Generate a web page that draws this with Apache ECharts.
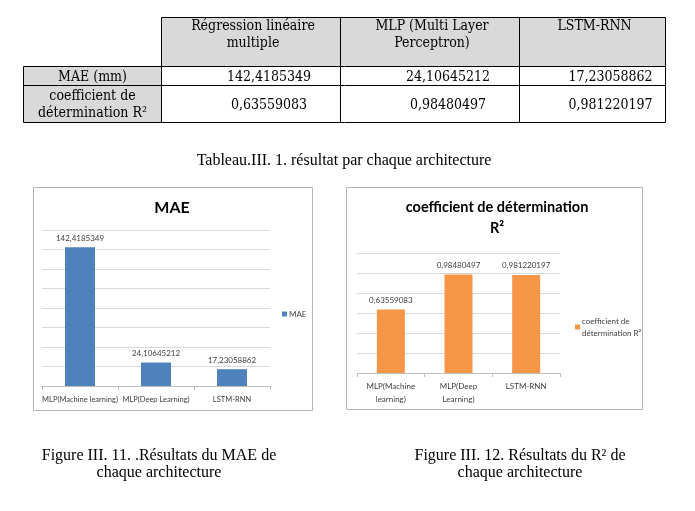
<!DOCTYPE html>
<html>
<head>
<meta charset="utf-8">
<script src="https://cdn.jsdelivr.net/npm/echarts@6/dist/echarts.min.js"></script>
<style>
html,body{margin:0;padding:0;background:#fff;}
#main{width:695px;height:511px;}
</style>
</head>
<body>
<div id="main"></div>
<script>
// ---- data ----
const categoriesMAE = ['MLP(Machine learning)', 'MLP(Deep Learning)', 'LSTM-RNN'];
const categoriesR2 = ['MLP(Machine\nlearning)', 'MLP(Deep\nLearning)', 'LSTM-RNN'];
const maeValues = [142.4185349, 24.10645212, 17.23058862];
const r2Values = [0.63559083, 0.98480497, 0.981220197];
const tableHeaders = ['Régression linéaire\nmultiple', 'MLP (Multi Layer\nPerceptron)', 'LSTM-RNN'];
const tableRowLabels = ['MAE (mm)', 'coefficient de\ndétermination R²'];
const maeTitle = 'MAE';
const r2Title = 'coefficient de détermination\nR²';
const maeSeriesName = 'MAE';
const r2SeriesName = 'coefficient de détermination R²';
const tableCaption = 'Tableau.III. 1. résultat par chaque architecture';
const figCaptionLeft = 'Figure III. 11. .Résultats du MAE de\nchaque architecture';
const figCaptionRight = 'Figure III. 12. Résultats du R² de\nchaque architecture';
const maeAxis = {min: 0, max: 160, interval: 20};
const r2Axis = {min: 0, max: 1.2, interval: 0.2};

// ---- helpers ----
const fr = v => String(v).replace('.', ',');
const chartFont = "Lato, 'DejaVu Sans Condensed', sans-serif";
const tableFont = "'DejaVu Serif Condensed', 'Liberation Serif', serif";
const capFont = "'Liberation Serif', serif";

const colX = [23.5, 161.5, 340.5, 519.5, 665.5];
const rowY = [17.5, 66.5, 85.5, 122.5];
const gray = '#d9d9d9';

const g = [];
// table fills
g.push({type:'rect', shape:{x:colX[1], y:rowY[0], width:colX[4]-colX[1], height:rowY[1]-rowY[0]}, style:{fill:gray}});
g.push({type:'rect', shape:{x:colX[0], y:rowY[1], width:colX[1]-colX[0], height:rowY[3]-rowY[1]}, style:{fill:gray}});
// table lines
const ls = {stroke:'#000', lineWidth:1};
g.push({type:'line', shape:{x1:colX[1], y1:rowY[0], x2:colX[4], y2:rowY[0]}, style:ls});
for (let i = 1; i < rowY.length; i++) {
  g.push({type:'line', shape:{x1:colX[0], y1:rowY[i], x2:colX[4], y2:rowY[i]}, style:ls});
}
g.push({type:'line', shape:{x1:colX[0], y1:rowY[1], x2:colX[0], y2:rowY[3]}, style:ls});
for (let i = 1; i < colX.length; i++) {
  g.push({type:'line', shape:{x1:colX[i], y1:rowY[0], x2:colX[i], y2:rowY[3]}, style:ls});
}
// header texts
tableHeaders.forEach((h, i) => {
  g.push({type:'text', x:(colX[i+1]+colX[i+2])/2 + 2, y:18, style:{text:h, font:'14px ' + tableFont, fill:'#000', textAlign:'center', textVerticalAlign:'top', lineHeight:17}});
});
// row labels
tableRowLabels.forEach((r, i) => {
  g.push({type:'text', x:(colX[0]+colX[1])/2, y:(rowY[i+1]+rowY[i+2])/2 + 1, style:{text:r, font:'14px ' + tableFont, fill:'#000', textAlign:'center', textVerticalAlign:'middle', lineHeight:17}});
});
// values
[maeValues, r2Values].forEach((vals, r) => {
  vals.forEach((v, c) => {
    g.push({type:'text', x:(colX[c+1]+colX[c+2])/2 + 18, y:(rowY[r+1]+rowY[r+2])/2 + 1, style:{text:fr(v), font:'14px ' + tableFont, fill:'#000', textAlign:'center', textVerticalAlign:'middle'}});
  });
});
// captions
g.push({type:'text', x:344, y:161, style:{text:tableCaption, font:'16px ' + capFont, fill:'#000', textAlign:'center', textVerticalAlign:'middle'}});
g.push({type:'text', x:159, y:447, style:{text:figCaptionLeft, font:'16px ' + capFont, fill:'#000', textAlign:'center', textVerticalAlign:'top', lineHeight:17}});
g.push({type:'text', x:520, y:447, style:{text:figCaptionRight, font:'16px ' + capFont, fill:'#000', textAlign:'center', textVerticalAlign:'top', lineHeight:17}});
// chart frames
g.push({type:'rect', shape:{x:33.5, y:187.5, width:279, height:223}, style:{fill:'none', stroke:'#b4b4b4', lineWidth:1}, z:-1});
g.push({type:'rect', shape:{x:346.5, y:187.5, width:296, height:222}, style:{fill:'none', stroke:'#b4b4b4', lineWidth:1}, z:-1});
// chart titles
g.push({type:'text', x:172, y:208, style:{text:maeTitle, font:'bold 16px ' + chartFont, fill:'#000', textAlign:'center', textVerticalAlign:'middle'}});
g.push({type:'text', x:497, y:197, style:{text:r2Title, font:'bold 14.5px ' + chartFont, fill:'#000', textAlign:'center', textVerticalAlign:'top', lineHeight:21}});

const makeXAxis = (idx, data, size) => ({
  type:'category', gridIndex:idx, data:data,
  axisLine:{lineStyle:{color:'#bfbfbf'}},
  axisTick:{show:true, length:4, lineStyle:{color:'#bfbfbf'}},
  axisLabel:{fontSize:size, color:'#404040', fontFamily:chartFont, margin:7, interval:0, lineHeight:13}
});
const yAxisBase = {
  type:'value',
  axisLabel:{show:false}, axisLine:{show:false}, axisTick:{show:false},
  splitLine:{lineStyle:{color:'#d9d9d9'}}
};
const labelStyle = {show:true, position:'top', distance:5, fontSize:8, color:'#404040', fontFamily:chartFont, formatter:p => fr(p.value)};

const chart = echarts.init(document.getElementById('main'), null, {renderer:'canvas'});
chart.setOption({
  backgroundColor:'#fff',
  animation:false,
  grid:[
    {left:42, right:425, top:230, bottom:125},
    {left:357, right:135, top:253, bottom:138}
  ],
  xAxis:[
    makeXAxis(0, categoriesMAE, 7.5),
    makeXAxis(1, categoriesR2, 8)
  ],
  yAxis:[
    Object.assign({gridIndex:0}, maeAxis, yAxisBase),
    Object.assign({gridIndex:1}, r2Axis, yAxisBase)
  ],
  legend:[
    {data:[maeSeriesName], left:282, top:310, padding:0, icon:'rect', itemWidth:5, itemHeight:5, itemGap:4,
     textStyle:{fontSize:8, color:'#404040', fontFamily:chartFont, padding:[0,0,0,-3]}},
    {data:[r2SeriesName], left:575, top:315, padding:0, icon:'rect', itemWidth:5, itemHeight:5,
     formatter:() => 'coefficient de\ndétermination R²',
     textStyle:{fontSize:8, color:'#404040', fontFamily:chartFont, lineHeight:12, padding:[0,0,0,-3]}}
  ],
  series:[
    {name:maeSeriesName, type:'bar', xAxisIndex:0, yAxisIndex:0, data:maeValues, barWidth:30,
     itemStyle:{color:'#4f81bd'}, label:labelStyle},
    {name:r2SeriesName, type:'bar', xAxisIndex:1, yAxisIndex:1, data:r2Values, barWidth:28,
     itemStyle:{color:'#f79646'}, label:labelStyle}
  ],
  graphic:g
});
</script>
</body>
</html>
